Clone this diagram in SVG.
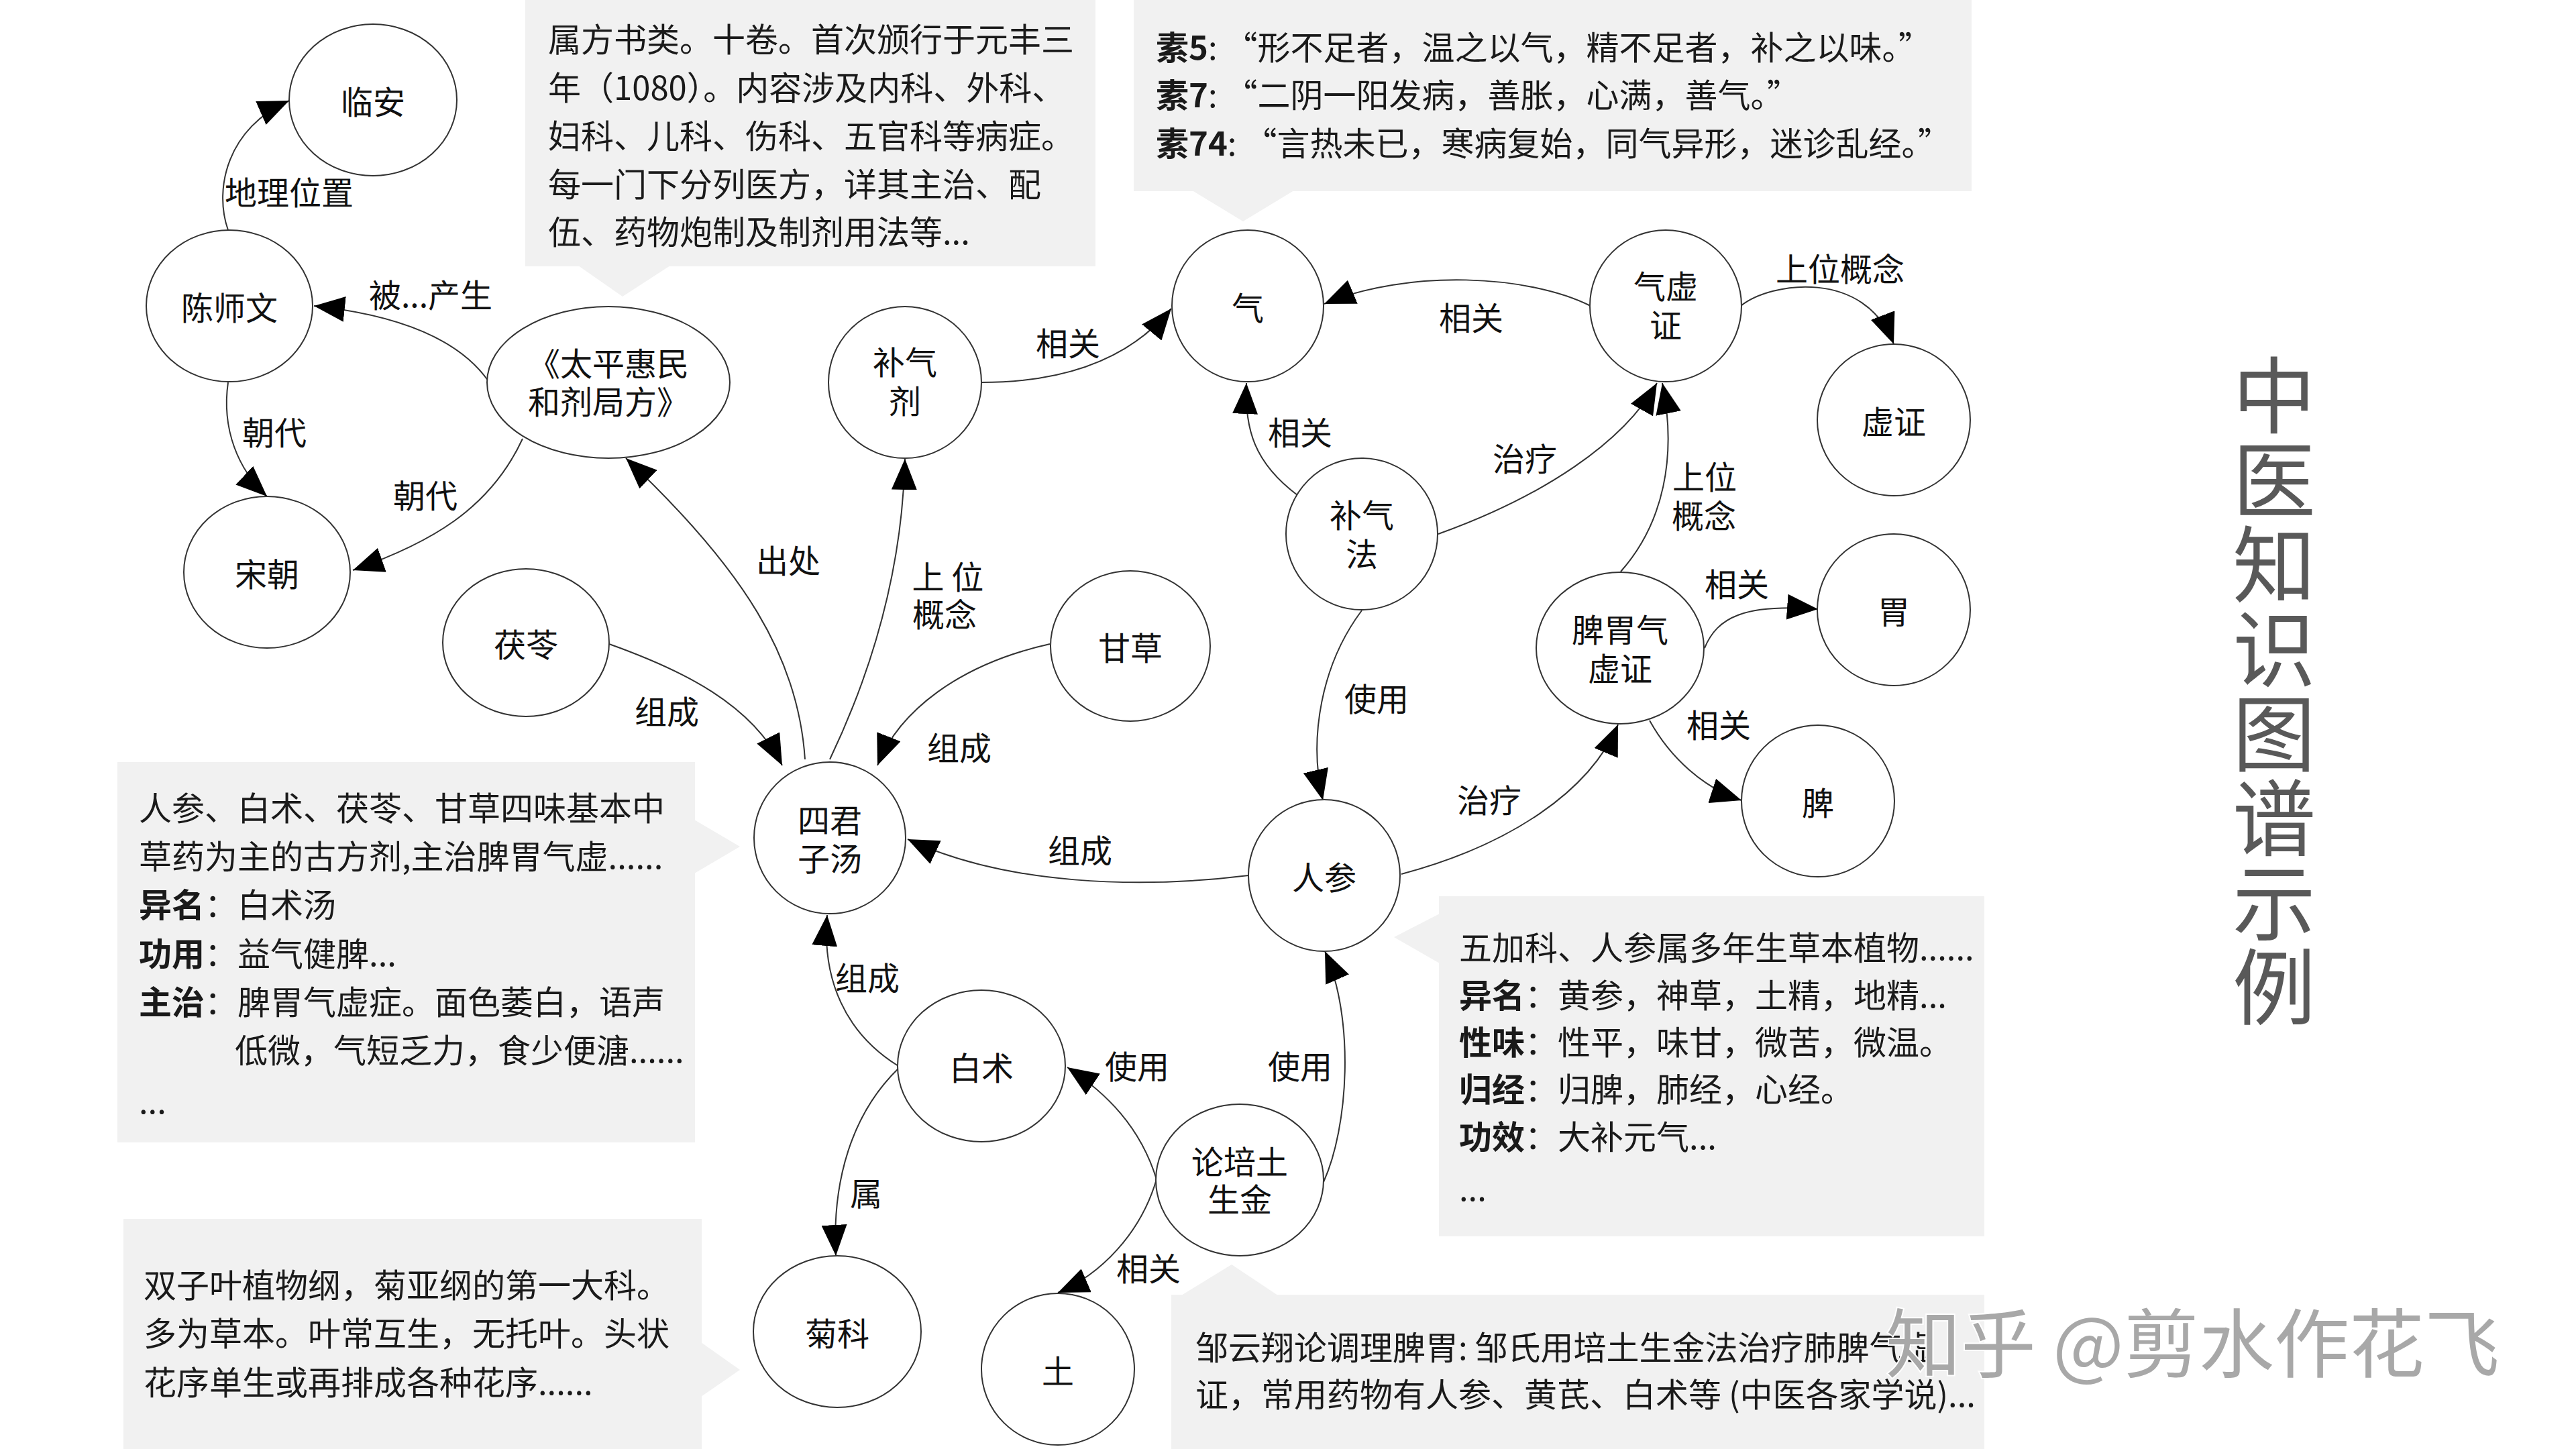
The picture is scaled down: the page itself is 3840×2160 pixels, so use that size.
<svg xmlns="http://www.w3.org/2000/svg" width="3840" height="2160" viewBox="0 0 3840 2160">
<defs>
<style>
.bg{fill:#ffffff}
.box{fill:#f1f1f1}
.node{fill:#ffffff;stroke:#333333;stroke-width:2}
.edge{fill:none;stroke:#333333;stroke-width:2}
.nt{font-family:"Noto Sans CJK SC","Noto Sans",sans-serif;font-size:48px;fill:#111111;text-anchor:middle;dominant-baseline:central}
.el{font-family:"Noto Sans CJK SC","Noto Sans",sans-serif;font-size:48px;fill:#111111;text-anchor:middle;dominant-baseline:central}
.ct{font-family:"Noto Sans CJK SC","Noto Sans",sans-serif;font-size:49px;fill:#1a1a1a}
.b{font-weight:bold}
.title{font-family:"Noto Sans CJK SC","Noto Sans",sans-serif;font-size:124px;letter-spacing:2px;fill:#595959;writing-mode:vertical-rl}
.wm{font-family:"Noto Sans CJK SC","Noto Sans",sans-serif;font-size:112px;fill:#a8a8a8;stroke:#ffffff;stroke-width:4;paint-order:stroke}
</style>
<marker id="arr" markerUnits="userSpaceOnUse" markerWidth="46" markerHeight="38" viewBox="0 0 46 38" refX="46" refY="19" orient="auto">
<path d="M0,0 L46,19 L0,38 Z" fill="#000000"/>
</marker>
</defs>
<rect class="bg" x="0" y="0" width="3840" height="2160"/>

<g id="callouts">
<g id="callout-taiping">
<rect class="box" x="783" y="0" width="850" height="397"/>
<polygon class="box" points="862,396 999,396 928,442"/>
<text class="ct" x="817" y="77">属方书类。十卷。首次颁行于元丰三</text>
<text class="ct" x="817" y="149">年（1080）。内容涉及内科、外科、</text>
<text class="ct" x="817" y="221">妇科、儿科、伤科、五官科等病症。</text>
<text class="ct" x="817" y="293">每一门下分列医方，详其主治、配</text>
<text class="ct" x="817" y="364">伍、药物炮制及制剂用法等...</text>
</g>
<g id="callout-qi">
<rect class="box" x="1690" y="0" width="1249" height="285"/>
<polygon class="box" points="1777,284 1929,284 1853,330"/>
<text class="ct" x="1723" y="89"><tspan class="b">素5</tspan>: “形不足者，温之以气，精不足者，补之以味。”</text>
<text class="ct" x="1723" y="160"><tspan class="b">素7</tspan>: “二阴一阳发病，善胀，心满，善气。”</text>
<text class="ct" x="1723" y="232"><tspan class="b">素74</tspan>: “言热未已，寒病复始，同气异形，迷诊乱经。”</text>
</g>
<g id="callout-sijunzi">
<rect class="box" x="175" y="1136" width="861" height="567"/>
<polygon class="box" points="1035,1222 1035,1302 1103,1262"/>
<text class="ct" x="207" y="1223">人参、白术、茯苓、甘草四味基本中</text>
<text class="ct" x="207" y="1295">草药为主的古方剂,主治脾胃气虚......</text>
<text class="ct" x="207" y="1367"><tspan class="b">异名</tspan>：白术汤</text>
<text class="ct" x="207" y="1440"><tspan class="b">功用</tspan>：益气健脾...</text>
<text class="ct" x="207" y="1512"><tspan class="b">主治</tspan>：脾胃气虚症。面色萎白，语声</text>
<text class="ct" x="350" y="1584">低微，气短乏力，食少便溏......</text>
<text class="ct" x="207" y="1660">...</text>
</g>
<g id="callout-juke">
<rect class="box" x="184" y="1817" width="862" height="343"/>
<polygon class="box" points="1045,2001 1045,2082 1103,2042"/>
<text class="ct" x="214" y="1934">双子叶植物纲，菊亚纲的第一大科。</text>
<text class="ct" x="214" y="2006">多为草本。叶常互生，无托叶。头状</text>
<text class="ct" x="214" y="2079">花序单生或再排成各种花序......</text>
</g>
<g id="callout-renshen">
<rect class="box" x="2145" y="1336" width="813" height="507"/>
<polygon class="box" points="2146,1362 2146,1436 2078,1397"/>
<text class="ct" x="2175" y="1431">五加科、人参属多年生草本植物......</text>
<text class="ct" x="2175" y="1502"><tspan class="b">异名</tspan>：黄参，神草，土精，地精...</text>
<text class="ct" x="2175" y="1572"><tspan class="b">性味</tspan>：性平，味甘，微苦，微温。</text>
<text class="ct" x="2175" y="1642"><tspan class="b">归经</tspan>：归脾，肺经，心经。</text>
<text class="ct" x="2175" y="1713"><tspan class="b">功效</tspan>：大补元气...</text>
<text class="ct" x="2175" y="1790">...</text>
</g>
<g id="callout-peitu">
<rect class="box" x="1746" y="1930" width="1212" height="230"/>
<polygon class="box" points="1761,1931 1905,1931 1836,1885"/>
<text class="ct" x="1782" y="2027">邹云翔论调理脾胃: 邹氏用培土生金法治疗肺脾气虚</text>
<text class="ct" x="1782" y="2097">证，常用药物有人参、黄芪、白术等 (中医各家学说)...</text>
</g>
</g>

<g id="connectors">
<path class="edge" marker-end="url(#arr)" d="M340,343 C318,280 340,190 431,150"/>
<text class="el" x="431" y="284">地理位置</text>
<path class="edge" marker-end="url(#arr)" d="M728,568 C680,500 580,468 468,456"/>
<text class="el" x="642" y="437">被...产生</text>
<path class="edge" marker-end="url(#arr)" d="M340,570 C330,640 355,700 398,740"/>
<text class="el" x="409" y="642">朝代</text>
<path class="edge" marker-end="url(#arr)" d="M779,654 C730,760 640,810 526,850"/>
<text class="el" x="634" y="736">朝代</text>
<path class="edge" marker-end="url(#arr)" d="M1200,1132 C1190,980 1110,850 933,683"/>
<text class="el" x="1175" y="833">出处</text>
<path class="edge" marker-end="url(#arr)" d="M1237,1132 C1300,1000 1345,850 1349,684"/>
<text class="el" x="1413" y="857">上 位</text>
<text class="el" x="1408" y="913">概念</text>
<path class="edge" marker-end="url(#arr)" d="M908,960 C1020,1000 1120,1050 1166,1141"/>
<text class="el" x="994" y="1058">组成</text>
<path class="edge" marker-end="url(#arr)" d="M1565,960 C1430,990 1340,1060 1308,1141"/>
<text class="el" x="1430" y="1112">组成</text>
<path class="edge" marker-end="url(#arr)" d="M1861,1305 C1700,1325 1500,1320 1353,1251"/>
<text class="el" x="1610" y="1265">组成</text>
<path class="edge" marker-end="url(#arr)" d="M1339,1589 C1260,1540 1225,1460 1233,1364"/>
<text class="el" x="1293" y="1455">组成</text>
<path class="edge" marker-end="url(#arr)" d="M1339,1593 C1270,1660 1240,1760 1246,1872"/>
<text class="el" x="1291" y="1776">属</text>
<path class="edge" marker-end="url(#arr)" d="M1724,1758 C1700,1680 1650,1630 1591,1591"/>
<text class="el" x="1695" y="1587">使用</text>
<path class="edge" marker-end="url(#arr)" d="M1724,1758 C1700,1840 1640,1900 1577,1927"/>
<text class="el" x="1712" y="1888">相关</text>
<path class="edge" marker-end="url(#arr)" d="M1973,1762 C2010,1680 2020,1520 1975,1418"/>
<text class="el" x="1938" y="1587">使用</text>
<path class="edge" marker-end="url(#arr)" d="M2030,910 C1970,990 1950,1100 1972,1193"/>
<text class="el" x="2052" y="1039">使用</text>
<path class="edge" marker-end="url(#arr)" d="M2089,1303 C2250,1260 2370,1180 2412,1080"/>
<text class="el" x="2220" y="1190">治疗</text>
<path class="edge" marker-end="url(#arr)" d="M2541,966 C2560,920 2600,900 2710,908"/>
<text class="el" x="2589" y="868">相关</text>
<path class="edge" marker-end="url(#arr)" d="M2459,1074 C2490,1130 2540,1175 2596,1193"/>
<text class="el" x="2562" y="1078">相关</text>
<path class="edge" marker-end="url(#arr)" d="M2416,852 C2480,780 2500,680 2478,571"/>
<text class="el" x="2541" y="708">上位</text>
<text class="el" x="2540" y="766">概念</text>
<path class="edge" marker-end="url(#arr)" d="M2144,796 C2300,740 2420,660 2470,571"/>
<text class="el" x="2273" y="681">治疗</text>
<path class="edge" marker-end="url(#arr)" d="M1934,738 C1870,690 1855,640 1858,571"/>
<text class="el" x="1938" y="642">相关</text>
<path class="edge" marker-end="url(#arr)" d="M1463,570 C1580,570 1680,540 1746,460"/>
<text class="el" x="1592" y="509">相关</text>
<path class="edge" marker-end="url(#arr)" d="M2371,456 C2280,410 2100,400 1974,453"/>
<text class="el" x="2193" y="471">相关</text>
<path class="edge" marker-end="url(#arr)" d="M2595,456 C2640,420 2780,400 2823,513"/>
<text class="el" x="2743" y="398">上位概念</text>
</g>

<g id="node-linan"><ellipse class="node" cx="556" cy="149" rx="125" ry="113"/><text class="nt" x="556" y="149">临安</text></g>
<g id="node-chenshiwen"><ellipse class="node" cx="342" cy="456" rx="124" ry="113"/><text class="nt" x="342" y="456">陈师文</text></g>
<g id="node-taiping"><ellipse class="node" cx="907" cy="570" rx="181" ry="113"/><text class="nt" x="907" y="539">《太平惠民</text><text class="nt" x="907" y="596">和剂局方》</text></g>
<g id="node-songchao"><ellipse class="node" cx="398" cy="853" rx="124" ry="113"/><text class="nt" x="398" y="853">宋朝</text></g>
<g id="node-buqiji"><ellipse class="node" cx="1349" cy="570" rx="114" ry="113"/><text class="nt" x="1349" y="537">补气</text><text class="nt" x="1349" y="595">剂</text></g>
<g id="node-qi"><ellipse class="node" cx="1860" cy="456" rx="113" ry="113"/><text class="nt" x="1860" y="456">气</text></g>
<g id="node-qixuzheng"><ellipse class="node" cx="2483" cy="456" rx="113" ry="113"/><text class="nt" x="2483" y="424">气虚</text><text class="nt" x="2483" y="482">证</text></g>
<g id="node-xuzheng"><ellipse class="node" cx="2823" cy="626" rx="114" ry="113"/><text class="nt" x="2823" y="626">虚证</text></g>
<g id="node-buqifa"><ellipse class="node" cx="2030" cy="796" rx="113" ry="113"/><text class="nt" x="2030" y="765">补气</text><text class="nt" x="2030" y="823">法</text></g>
<g id="node-piweiqixu"><ellipse class="node" cx="2415" cy="966" rx="125" ry="113"/><text class="nt" x="2415" y="936">脾胃气</text><text class="nt" x="2415" y="994">虚证</text></g>
<g id="node-wei"><ellipse class="node" cx="2823" cy="909" rx="114" ry="113"/><text class="nt" x="2823" y="909">胃</text></g>
<g id="node-pi"><ellipse class="node" cx="2710" cy="1194" rx="114" ry="113"/><text class="nt" x="2710" y="1194">脾</text></g>
<g id="node-fuling"><ellipse class="node" cx="784" cy="958" rx="124" ry="110"/><text class="nt" x="784" y="958">茯苓</text></g>
<g id="node-gancao"><ellipse class="node" cx="1685" cy="963" rx="119" ry="112"/><text class="nt" x="1685" y="963">甘草</text></g>
<g id="node-sijunzi"><ellipse class="node" cx="1237" cy="1249" rx="113" ry="113"/><text class="nt" x="1237" y="1220">四君</text><text class="nt" x="1237" y="1277">子汤</text></g>
<g id="node-renshen"><ellipse class="node" cx="1974" cy="1305" rx="113" ry="113"/><text class="nt" x="1974" y="1305">人参</text></g>
<g id="node-baizhu"><ellipse class="node" cx="1463" cy="1589" rx="125" ry="113"/><text class="nt" x="1463" y="1589">白术</text></g>
<g id="node-peitu"><ellipse class="node" cx="1848" cy="1759" rx="125" ry="113"/><text class="nt" x="1848" y="1729">论培土</text><text class="nt" x="1848" y="1785">生金</text></g>
<g id="node-juke"><ellipse class="node" cx="1248" cy="1985" rx="125" ry="113"/><text class="nt" x="1248" y="1985">菊科</text></g>
<g id="node-tu"><ellipse class="node" cx="1577" cy="2041" rx="114" ry="113"/><text class="nt" x="1577" y="2041">土</text></g>

<g id="title">
<text class="title" x="3390" y="527">中医知识图谱示例</text>
</g>
<text class="wm" x="2811" y="2045">知乎 @剪水作花飞</text>
</svg>
